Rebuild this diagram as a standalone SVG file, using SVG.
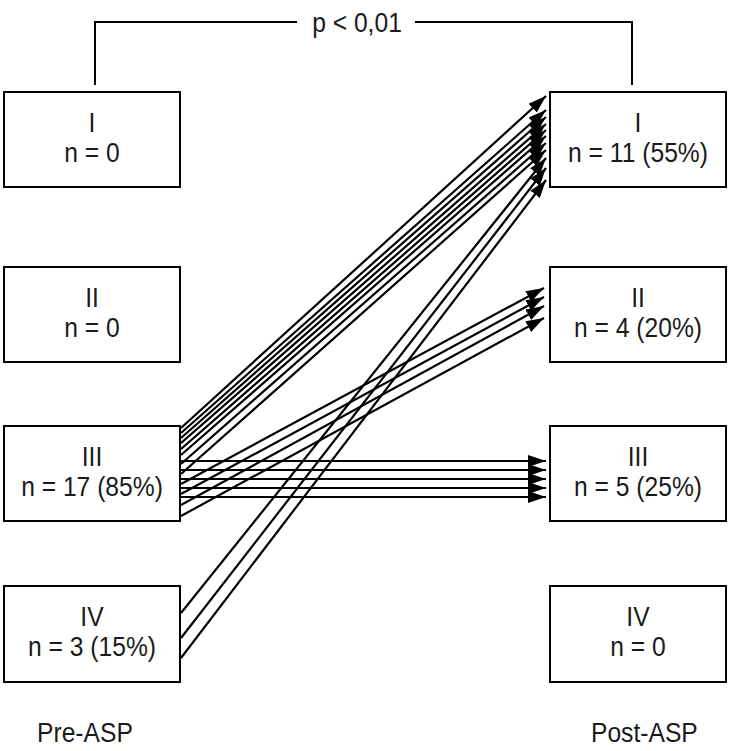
<svg xmlns="http://www.w3.org/2000/svg" width="730" height="751" viewBox="0 0 730 751">
<style>
.box{fill:#fff;stroke:#000;stroke-width:2}
.t{font-family:"Liberation Sans",Arial,sans-serif;font-size:28px;fill:#1a1a1a;text-anchor:middle}
.lbl{font-family:"Liberation Sans",Arial,sans-serif;font-size:28px;fill:#1a1a1a}
.c line{stroke:#000;stroke-width:2.2;marker-end:url(#ah)}
.br{fill:none;stroke:#000;stroke-width:2}
</style>
<defs>
<marker id="ah" viewBox="0 0 18 12" refX="18" refY="6" markerWidth="18" markerHeight="12" markerUnits="userSpaceOnUse" orient="auto">
<path d="M0,0 L18,6 L0,12 z" fill="#000"/>
</marker>
</defs>
<rect width="730" height="751" fill="#fff"/>
<g id="bracket">
<path class="br" d="M95,85 V22 H297 M415,22 H632 V85"/>
<text class="lbl" text-anchor="middle" transform="translate(357,32) scale(0.88,1)">p &lt; 0,01</text>
</g>
<g id="pre-I"><rect class="box" x="4" y="92" width="176" height="95"/><text class="t" transform="translate(92,132) scale(0.88,1)">I</text><text class="t" transform="translate(92,162) scale(0.88,1)">n = 0</text></g>
<g id="pre-II"><rect class="box" x="4" y="267" width="176" height="95"/><text class="t" transform="translate(92,307) scale(0.88,1)">II</text><text class="t" transform="translate(92,337) scale(0.88,1)">n = 0</text></g>
<g id="pre-III"><rect class="box" x="4" y="426" width="176" height="95"/><text class="t" transform="translate(92,466) scale(0.88,1)">III</text><text class="t" transform="translate(92,496) scale(0.88,1)">n = 17 (85%)</text></g>
<g id="pre-IV"><rect class="box" x="4" y="586" width="176" height="96"/><text class="t" transform="translate(92,626) scale(0.88,1)">IV</text><text class="t" transform="translate(92,656) scale(0.88,1)">n = 3 (15%)</text></g>
<g id="post-I"><rect class="box" x="550" y="92" width="176" height="95"/><text class="t" transform="translate(638,132) scale(0.88,1)">I</text><text class="t" transform="translate(638,162) scale(0.88,1)">n = 11 (55%)</text></g>
<g id="post-II"><rect class="box" x="550" y="267" width="176" height="95"/><text class="t" transform="translate(638,307) scale(0.88,1)">II</text><text class="t" transform="translate(638,337) scale(0.88,1)">n = 4 (20%)</text></g>
<g id="post-III"><rect class="box" x="550" y="426" width="176" height="95"/><text class="t" transform="translate(638,466) scale(0.88,1)">III</text><text class="t" transform="translate(638,496) scale(0.88,1)">n = 5 (25%)</text></g>
<g id="post-IV"><rect class="box" x="550" y="586" width="176" height="96"/><text class="t" transform="translate(638,626) scale(0.88,1)">IV</text><text class="t" transform="translate(638,656) scale(0.88,1)">n = 0</text></g>
<g class="c" id="connectors">
<line x1="181" y1="428" x2="546" y2="96"/>
<line x1="181" y1="433" x2="546" y2="110"/>
<line x1="181" y1="438" x2="546" y2="117"/>
<line x1="181" y1="443" x2="546" y2="124"/>
<line x1="181" y1="449" x2="546" y2="130"/>
<line x1="181" y1="455" x2="546" y2="136"/>
<line x1="181" y1="464" x2="546" y2="143"/>
<line x1="181" y1="474" x2="546" y2="150"/>
<line x1="181" y1="613" x2="546" y2="158"/>
<line x1="181" y1="638" x2="546" y2="168"/>
<line x1="181" y1="658" x2="546" y2="180"/>
<line x1="181" y1="484" x2="544" y2="288"/>
<line x1="181" y1="494" x2="544" y2="297"/>
<line x1="181" y1="505" x2="544" y2="306"/>
<line x1="181" y1="516" x2="544" y2="318"/>
<line x1="181" y1="461" x2="546" y2="461"/>
<line x1="181" y1="470" x2="546" y2="470"/>
<line x1="181" y1="479" x2="546" y2="479"/>
<line x1="181" y1="488" x2="546" y2="488"/>
<line x1="181" y1="497" x2="546" y2="497"/>
</g>
<text class="lbl" transform="translate(37,742) scale(0.88,1)">Pre-ASP</text>
<text class="lbl" transform="translate(591,742) scale(0.88,1)">Post-ASP</text>
</svg>
